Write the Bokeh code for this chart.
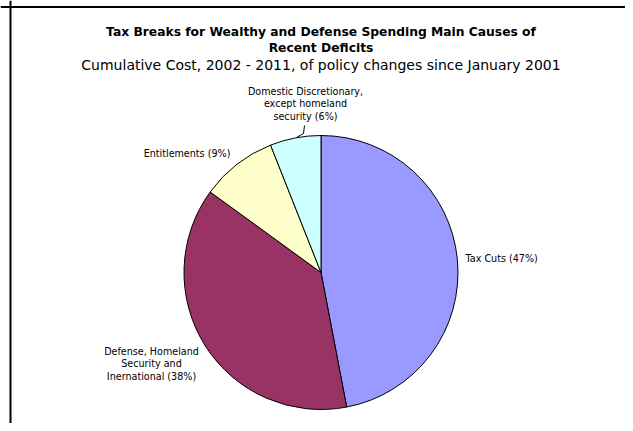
import numpy as np
from bokeh.plotting import figure
from bokeh.models import Range1d, Span
from bokeh.core.properties import value
from bokeh.embed import file_html
from bokeh.resources import INLINE

# ---- data ----
categories = ["Tax Cuts", "Defense, Homeland Security and Inernational",
              "Entitlements", "Domestic Discretionary, except homeland security"]
shares = [47, 38, 9, 6]
colors = ["#9999FF", "#993366", "#FFFFCC", "#CCFFFF"]
label_lines = [
    ["Tax Cuts (47%)"],
    ["Defense, Homeland", "Security and", "Inernational (38%)"],
    ["Entitlements (9%)"],
    ["Domestic Discretionary,", "except homeland", "security (6%)"],
]
title_lines = ["Tax Breaks for Wealthy and Defense Spending Main Causes of",
               "Recent Deficits"]
subtitle = "Cumulative Cost, 2002 - 2011, of policy changes since January 2001"

W, H = 625, 423
FONT = value("DejaVu Sans")

p = figure(width=W, height=H, x_range=Range1d(0, W), y_range=Range1d(0, H),
           output_backend="svg", toolbar_location=None, min_border=0)
p.axis.visible = False
p.grid.visible = False
p.outline_line_color = None
p.background_fill_color = "white"
p.border_fill_color = "white"

# frame lines (top and left of the chart box)
p.add_layout(Span(location=H - 6.5, dimension="width", line_color="black", line_width=2))
p.add_layout(Span(location=10, dimension="height", line_color="black", line_width=2))

# pie
cx, cy, r = 320.5, H - 272, 137
vals = np.array(shares, dtype=float)
frac = vals / vals.sum()
cum = np.concatenate([[0], np.cumsum(frac)])
start = np.pi / 2 - 2 * np.pi * cum[1:]
end = np.pi / 2 - 2 * np.pi * cum[:-1]
p.wedge(x=cx, y=cy, radius=r, radius_units="screen",
        start_angle=list(start), end_angle=list(end),
        fill_color=colors, line_color="black", line_width=1)

# titles
for txt, py in zip(title_lines, [31, 47]):
    p.text(x=[320.5], y=[H - py], text=[txt], text_font=FONT,
           text_font_style="bold", text_font_size="12.3px",
           text_align="center", text_baseline="middle", text_color="black")
p.text(x=[320.5], y=[H - 64], text=[subtitle], text_font=FONT,
       text_font_size="14px", text_align="center", text_baseline="middle",
       text_color="black")

# slice labels: (x, first line pixel row, align)
LS = 12.5
label_pos = [(465, 258, "left"),
             (151, 350.5, "center"),
             (186.5, 153, "center"),
             (305, 90.5, "center")]
for (lx, py0, align), lines in zip(label_pos, label_lines):
    ys = [H - (py0 + i * LS) for i in range(len(lines))]
    p.text(x=[lx] * len(lines), y=ys, text=lines, text_font=FONT,
           text_font_size="9.6px", text_align=align, text_baseline="middle",
           text_color="black")

# leader line for small slice
p.line(x=[304, 303, 296], y=[H - 125, H - 133, H - 137], line_color="black", line_width=1)

open("out.html", "w").write(file_html(p, INLINE))
